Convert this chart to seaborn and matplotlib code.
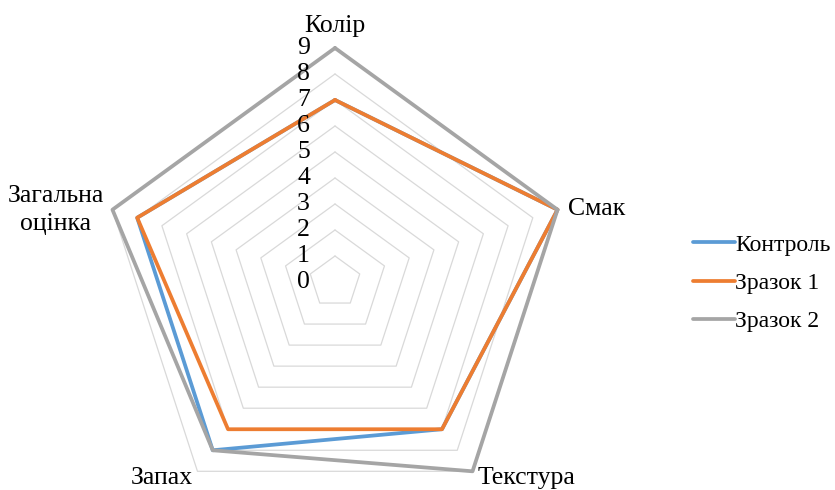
import numpy as np
import pandas as pd
import matplotlib
matplotlib.use("Agg")
import matplotlib.pyplot as plt
import seaborn as sns

categories = ["Колір", "Смак", "Текстура", "Запах", "Загальна оцінка"]
series_names = ["Контроль", "Зразок 1", "Зразок 2"]
control = [7, 9, 7, 8, 8]
sample1 = [7, 9, 7, 7, 8]
sample2 = [9, 9, 9, 8, 9]
ticks = list(range(0, 10))
colors = ["#5b9bd5", "#ed7d31", "#a5a5a5"]

sns.set_theme(style="white")
plt.rcParams["font.family"] = ["Liberation Serif", "DejaVu Serif"]
plt.rcParams["text.color"] = "black"

# category directions: first axis straight up, then clockwise
n = len(categories)
angles = np.pi / 2 - 2 * np.pi * np.arange(n) / n

def closed_xy(vals):
    v = np.append(vals, vals[0])
    a = np.append(angles, angles[0])
    return v * np.cos(a), v * np.sin(a)

rows = []
for name, vals in zip(series_names, [control, sample1, sample2]):
    xs, ys = closed_xy(np.asarray(vals, dtype=float))
    for i, (x, y) in enumerate(zip(xs, ys)):
        rows.append({"series": name, "order": i, "x": x, "y": y})
df = pd.DataFrame(rows)

W, H = 835, 490
fig = plt.figure(figsize=(W / 100, H / 100), dpi=100)
ax = fig.add_axes([0, 0, 1, 1])
cx, cy, unit = 335, 282, 26.0
ax.set_xlim(-cx / unit, (W - cx) / unit)
ax.set_ylim(-(H - cy) / unit, cy / unit)
ax.axis("off")

# pentagonal grid rings
for t in ticks[1:]:
    gx, gy = closed_xy(np.full(n, float(t)))
    ax.plot(gx, gy, color="#d9d9d9", lw=0.9, zorder=1)

sns.lineplot(data=df, x="x", y="y", hue="series", units="series", estimator=None,
             sort=False, palette=colors, hue_order=series_names, lw=2.7,
             ax=ax, zorder=3)

fs = 18.5
# radial value labels along the vertical axis
for t in ticks:
    ax.text(-25 / unit, t, str(t), ha="right", va="center", fontsize=fs, color="black")

ax.text(0, (cy - 32) / unit, "Колір", ha="center", va="baseline", fontsize=fs, color="black")
ax.text((568 - cx) / unit, (cy - 215) / unit, "Смак", ha="left", va="baseline", fontsize=fs, color="black")
ax.text((527 - cx) / unit, (cy - 484) / unit, "Текстура", ha="center", va="baseline", fontsize=fs, color="black")
ax.text((162 - cx) / unit, (cy - 484) / unit, "Запах", ha="center", va="baseline", fontsize=fs, color="black")
ax.text((56 - cx) / unit, (cy - 202) / unit, "Загальна", ha="center", va="baseline", fontsize=fs, color="black")
ax.text((56 - cx) / unit, (cy - 230) / unit, "оцінка", ha="center", va="baseline", fontsize=fs, color="black")

handles, labels = ax.get_legend_handles_labels()
leg = ax.legend(handles, labels, loc="center left", bbox_to_anchor=(693 / W, 1 - 283 / H),
                frameon=False, fontsize=17, handlelength=1.78, handletextpad=0.0,
                labelspacing=0.70, borderaxespad=0, borderpad=0)
for txt in leg.get_texts():
    txt.set_color("black")

fig.savefig("out.png", dpi=100)
